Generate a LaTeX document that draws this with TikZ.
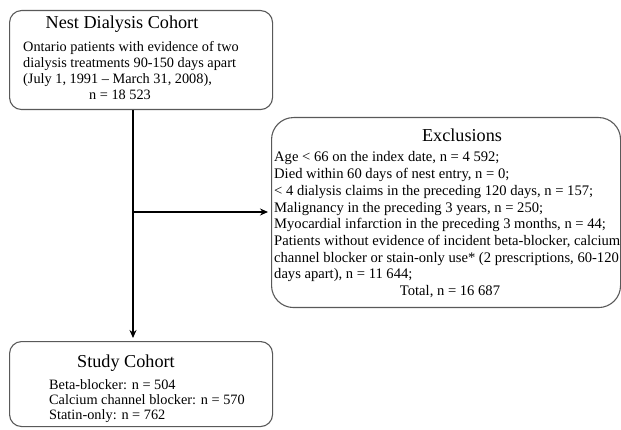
\documentclass[tikz,border=0pt]{standalone}
\usepackage{fontspec}
\setmainfont{Liberation Serif}
\usetikzlibrary{arrows.meta}
\begin{document}
\begin{tikzpicture}[x=1pt,y=-1pt,
  box/.style={draw=black!65, line width=1.1pt, rounded corners=12pt, inner sep=0pt},
  ttl/.style={font=\fontsize{18.2}{20}\selectfont, inner sep=0pt, anchor=base},
  txt/.style={font=\fontsize{14.3}{16}\selectfont, inner sep=0pt, anchor=base west},
  ctxt/.style={font=\fontsize{14.3}{16}\selectfont, inner sep=0pt, anchor=base},
  etxt/.style={font=\fontsize{14.6}{16}\selectfont, inner sep=0pt, anchor=base west},
  ectxt/.style={font=\fontsize{14.6}{16}\selectfont, inner sep=0pt, anchor=base},
  conn/.style={line width=1.8pt, -{Stealth[length=8pt,width=7pt]}, shorten >=3pt}]
\useasboundingbox (0,0) rectangle (621,430);
% boxes
\node[box, minimum width=263pt, minimum height=99pt, anchor=north west] (nest) at (9,10) {};
\node[box, rounded corners=22pt, minimum width=349pt, minimum height=190pt, anchor=north west] (excl) at (271,117) {};
\node[box, minimum width=263pt, minimum height=85pt, anchor=north west] (study) at (9,341) {};
% nest text
\node[ttl] (nestT) at (122,29) {Nest Dialysis Cohort};
\node[txt] (n1) at (23,52) {Ontario patients with evidence of two};
\node[txt] (n2) at (23,68) {dialysis treatments 90-150 days apart};
\node[txt] (n3) at (23,84) {(July 1, 1991 – March 31, 2008),};
\node[ctxt] (n4) at (120,100) {n = 18 523};
% exclusions text
\node[ttl] (exT) at (462,142) {Exclusions};
\node[etxt] (e1) at (274,162) {Age < 66 on the index date, n = 4 592;};
\node[etxt] (e2) at (274,178.7) {Died within 60 days of nest entry, n = 0;};
\node[etxt] (e3) at (274,195.4) {< 4 dialysis claims in the preceding 120 days, n = 157;};
\node[etxt] (e4) at (274,212.1) {Malignancy in the preceding 3 years, n = 250;};
\node[etxt] (e5) at (274,228.8) {Myocardial infarction in the preceding 3 months, n = 44;};
\node[etxt] (e6) at (274,245.5) {Patients without evidence of incident beta-blocker, calcium};
\node[etxt] (e7) at (274,262.2) {channel blocker or stain-only use* (2 prescriptions, 60-120};
\node[etxt] (e8) at (274,278.9) {days apart), n = 11 644;};
\node[ectxt] (e9) at (450,295.6) {Total, n = 16 687};
% study text
\node[ttl] (stT) at (126,367) {Study Cohort};
\node[txt] (s1) at (49,389) {Beta-blocker: n = 504};
\node[txt] (s2) at (49,404.3) {Calcium channel blocker: n = 570};
\node[txt] (s3) at (49,419.6) {Statin-only: n = 762};
% connectors
\coordinate (j) at (133,212);
\draw[conn] (nest.south -| j) -- (study.north -| j);
\draw[conn] (j) -- (excl.west |- j);
\end{tikzpicture}
\end{document}
